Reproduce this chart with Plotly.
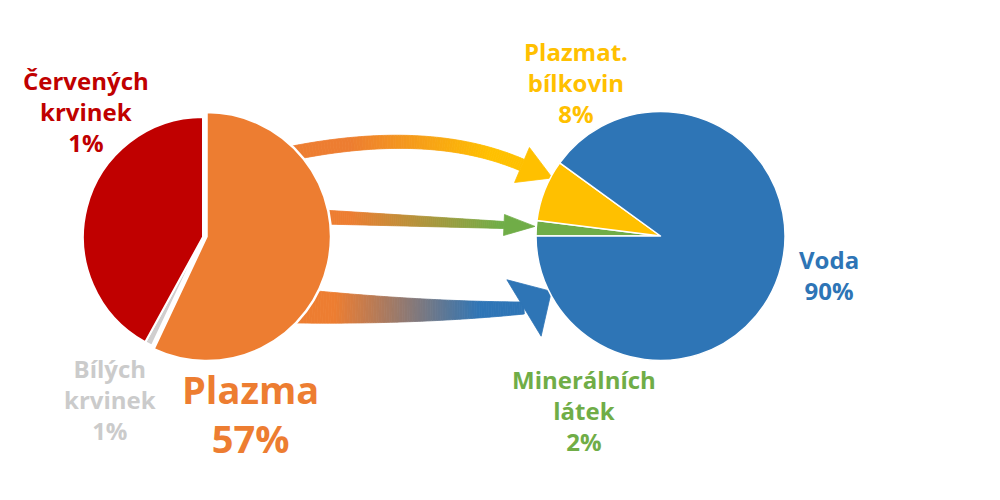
import numpy as np
import plotly.graph_objects as go

# ---------------- data ----------------
left_names = ["Plazma", "Bílých krvinek", "Červených krvinek"]
left_values = [57, 1, 42]
left_label_lines = [["Plazma", "57%"], ["Bílých", "krvinek", "1%"], ["Červených", "krvinek", "1%"]]

right_names = ["Minerálních látek", "Plazmat. bílkovin", "Voda"]
right_values = [2, 8, 90]
right_label_lines = [["Minerálních", "látek", "2%"], ["Plazmat.", "bílkovin", "8%"], ["Voda", "90%"]]

# ---------------- style ----------------
W, H = 1000, 500
OFF = 8  # page body margin of the browser
left_colors = ["#ED7D31", "#D0CECE", "#C00000"]
left_text_colors = ["#ED7D31", "#CBCBCB", "#C00000"]
right_colors = ["#70AD47", "#FFC000", "#2E75B6"]
right_text_colors = ["#70AD47", "#FFC000", "#2E75B6"]
TRANSP = "rgba(0,0,0,0)"
FONT = "Open Sans"


def dom(cx, cy, r):
    cx, cy = cx - OFF, cy - OFF
    return dict(x=[(cx - r) / W, (cx + r) / W], y=[1 - (cy + r) / H, 1 - (cy - r) / H])


fig = go.Figure()

# invisible cartesian frame in pixel units (for arrows / labels)
fig.add_trace(go.Scatter(x=[], y=[], mode="markers", showlegend=False, hoverinfo="skip"))

# left pie: red + grey part (smaller radius)
fig.add_trace(go.Pie(
    labels=left_names, values=left_values, sort=False, direction="clockwise", rotation=0,
    marker=dict(colors=[TRANSP, left_colors[1], left_colors[2]],
                line=dict(color="white", width=[0, 2, 2])),
    textinfo="none", hoverinfo="label+value", showlegend=False,
    domain=dom(203, 237, 120),
))
# left pie: plasma part (larger, shifted)
fig.add_trace(go.Pie(
    labels=left_names, values=left_values, sort=False, direction="clockwise", rotation=0,
    marker=dict(colors=[left_colors[0], TRANSP, TRANSP],
                line=dict(color="white", width=[2.5, 0, 0])),
    textinfo="none", hoverinfo="label+value", showlegend=False,
    domain=dom(206.5, 236.5, 124.5),
))
# right pie
fig.add_trace(go.Pie(
    labels=right_names, values=right_values, sort=False, direction="clockwise", rotation=270,
    marker=dict(colors=right_colors, line=dict(color="white", width=1.5)),
    textinfo="none", hoverinfo="label+value", showlegend=False,
    domain=dom(660.5, 236, 124.5),
))

# ---------------- gradient arrows ----------------
def hex2rgb(h):
    h = h.lstrip("#")
    return np.array([int(h[i:i + 2], 16) for i in (0, 2, 4)], float)


def bezier(P, s):
    P = np.array(P, float)
    n = len(P) - 1
    from math import comb
    return sum(comb(n, k) * ((1 - s) ** (n - k))[:, None] * (s ** k)[:, None] * P[k] for k in range(n + 1))


shapes = []


def arrow(P, wfun, head_len, head_hw, c0, c1, xa, xb, head_dir=None, N=90):
    s = np.linspace(0, 1, N + 1)
    pts = bezier(P, s)
    d = np.gradient(pts, axis=0)
    d /= np.linalg.norm(d, axis=1)[:, None]
    nrm = np.stack([-d[:, 1], d[:, 0]], axis=1)
    w = wfun(s)
    left = pts + nrm * (w / 2)[:, None]
    right = pts - nrm * (w / 2)[:, None]
    a, b = hex2rgb(c0), hex2rgb(c1)

    def col(x):
        t = np.clip((x - xa) / (xb - xa), 0, 1)
        c = a + (b - a) * t
        return "rgb(%d,%d,%d)" % tuple(np.round(c))

    for i in range(N):
        poly = [left[i], left[i + 1], right[i + 1], right[i]]
        path = "M " + " L ".join("%.2f,%.2f" % (p[0], p[1]) for p in poly) + " Z"
        c = col((pts[i, 0] + pts[i + 1, 0]) / 2)
        shapes.append(dict(type="path", path=path, xref="x", yref="y", fillcolor=c,
                           line=dict(color=c, width=0.8), layer="below"))
    end = pts[-1]
    if head_dir is None:
        t_end = d[-1]
    else:
        t_end = np.array(head_dir, float)
        t_end /= np.linalg.norm(t_end)
    n_end = np.array([-t_end[1], t_end[0]])
    tip = end + t_end * head_len
    poly = [end + n_end * head_hw, tip, end - n_end * head_hw]
    path = "M " + " L ".join("%.2f,%.2f" % (p[0], p[1]) for p in poly) + " Z"
    c = col(end[0] + 50)
    shapes.append(dict(type="path", path=path, xref="x", yref="y", fillcolor=c,
                       line=dict(color=c, width=0.8), layer="below"))


# top arrow (plasma -> proteins)
arrow([(288, 154), (429, 125), (522, 165)], lambda s: 14 - 2 * s, 33, 19,
      "#ED7D31", "#FFC000", 350, 490)
# middle arrow (plasma -> minerals)
arrow([(322, 217), (415, 221), (504, 225)], lambda s: 14 - 7 * s, 31, 10.5,
      "#ED7D31", "#70AD47", 350, 500)
# bottom arrow (plasma -> water)
arrow([(296, 306), (420, 313), (524, 308)], lambda s: 34 - 22 * s, 32, 33,
      "#ED7D31", "#2E75B6", 335, 480, head_dir=(27.5, -16.7))

# ---------------- labels ----------------
annotations = []


def add_label(lines, cx, cy, color, size):
    annotations.append(dict(text="<br>".join(lines), x=cx, y=cy, xref="x", yref="y", showarrow=False,
                            xanchor="center", yanchor="middle", align="center",
                            font=dict(family=FONT, size=size, color=color, weight=700)))


add_label(left_label_lines[2], 86, 111, left_text_colors[2], 24)
add_label(left_label_lines[1], 110, 399, left_text_colors[1], 24)
add_label(left_label_lines[0], 250, 413, left_text_colors[0], 38)
add_label(right_label_lines[1], 576, 82, right_text_colors[1], 24)
add_label(right_label_lines[0], 584, 410.5, right_text_colors[0], 24)
add_label(right_label_lines[2], 829, 274.5, right_text_colors[2], 24)

fig.update_layout(
    width=W, height=H, margin=dict(l=0, r=0, t=0, b=0),
    paper_bgcolor="white", plot_bgcolor="white", showlegend=False,
    xaxis=dict(range=[OFF, W + OFF], visible=False, fixedrange=True, domain=[0, 1]),
    yaxis=dict(range=[H + OFF, OFF], visible=False, fixedrange=True, domain=[0, 1]),
    shapes=shapes, annotations=annotations,
)

fig.write_html("out.html")
